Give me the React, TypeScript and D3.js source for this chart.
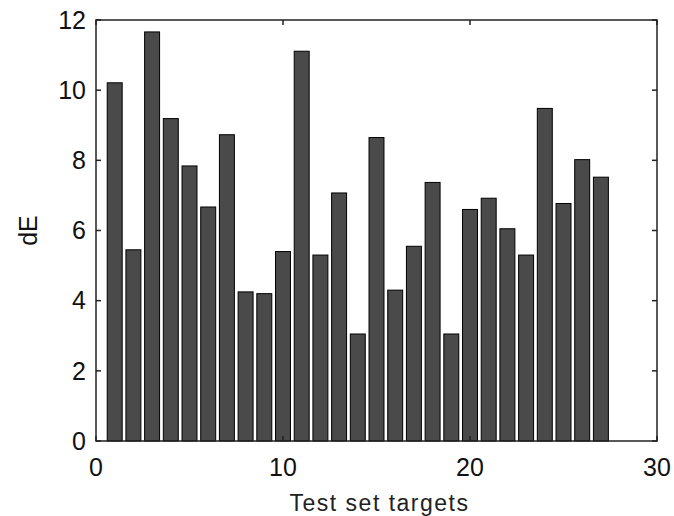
import { useEffect, useRef } from "react";
import * as d3 from "d3";

// test set target index and colour difference per target
const targets = [1, 2, 3, 4, 5, 6, 7, 8, 9, 10, 11, 12, 13, 14, 15, 16, 17, 18, 19, 20, 21, 22, 23, 24, 25, 26, 27];
const dE = [10.21, 5.45, 11.66, 9.19, 7.84, 6.67, 8.73, 4.25, 4.2, 5.4, 11.11, 5.3, 7.07, 3.05, 8.65, 4.3, 5.55, 7.37, 3.05, 6.6, 6.92, 6.05, 5.3, 9.48, 6.77, 8.02, 7.52];
const xTicks = [0, 10, 20, 30];
const yTicks = [0, 2, 4, 6, 8, 10, 12];

export default function App() {
  const ref = useRef<SVGSVGElement>(null);

  useEffect(() => {
    const width = 674;
    const height = 516;
    const left = 96;
    const right = 657;
    const top = 20;
    const bottom = 441;
    const font = "'Liberation Sans', Arial, sans-serif";

    const x = d3.scaleLinear().domain([0, 30]).range([left, right]);
    const y = d3.scaleLinear().domain([0, 12]).range([bottom, top]);
    const barW = x(0.8) - x(0);

    const svg = d3.select(ref.current);
    svg.selectAll("*").remove();
    svg.append("rect").attr("width", width).attr("height", height).attr("fill", "#fff");

    svg
      .append("g")
      .selectAll("rect")
      .data(targets)
      .join("rect")
      .attr("x", (d) => x(d) - barW / 2)
      .attr("y", (d, i) => y(dE[i]))
      .attr("width", barW)
      .attr("height", (d, i) => y(0) - y(dE[i]))
      .attr("fill", "#4a4a4a")
      .attr("stroke", "#000")
      .attr("stroke-width", 1);

    // box
    svg
      .append("rect")
      .attr("x", left)
      .attr("y", top)
      .attr("width", right - left)
      .attr("height", bottom - top)
      .attr("fill", "none")
      .attr("stroke", "#222")
      .attr("stroke-width", 1.5);

    const tk = 5;
    const g = svg.append("g").attr("stroke", "#222").attr("stroke-width", 1.5);
    xTicks.forEach((t) => {
      g.append("line").attr("x1", x(t)).attr("x2", x(t)).attr("y1", bottom).attr("y2", bottom - tk);
      g.append("line").attr("x1", x(t)).attr("x2", x(t)).attr("y1", top).attr("y2", top + tk);
    });
    yTicks.forEach((t) => {
      g.append("line").attr("x1", left).attr("x2", left + tk).attr("y1", y(t)).attr("y2", y(t));
      g.append("line").attr("x1", right).attr("x2", right - tk).attr("y1", y(t)).attr("y2", y(t));
    });

    svg
      .append("g")
      .selectAll("text")
      .data(xTicks)
      .join("text")
      .attr("x", (d) => x(d))
      .attr("y", 476)
      .attr("text-anchor", "middle")
      .attr("font-family", font)
      .attr("font-size", 25)
      .attr("fill", "#111")
      .text((d) => d);

    svg
      .append("g")
      .selectAll("text")
      .data(yTicks)
      .join("text")
      .attr("x", left - 10)
      .attr("y", (d) => y(d))
      .attr("dy", "0.35em")
      .attr("text-anchor", "end")
      .attr("font-family", font)
      .attr("font-size", 25)
      .attr("fill", "#111")
      .text((d) => d);

    svg
      .append("text")
      .attr("x", (left + right) / 2 + 3)
      .attr("y", 511)
      .attr("text-anchor", "middle")
      .attr("font-family", font)
      .attr("font-size", 23)
      .attr("letter-spacing", 1.5)
      .attr("fill", "#222")
      .text("Test set targets");

    svg
      .append("text")
      .attr("transform", `translate(37,${y(6)}) rotate(-90)`)
      .attr("text-anchor", "middle")
      .attr("font-family", font)
      .attr("font-size", 25)
      .attr("fill", "#111")
      .text("dE");
  }, []);

  return (
    <svg
      ref={ref}
      width={674}
      height={516}
      style={{ position: "absolute", left: 0, top: 0, display: "block" }}
    />
  );
}
